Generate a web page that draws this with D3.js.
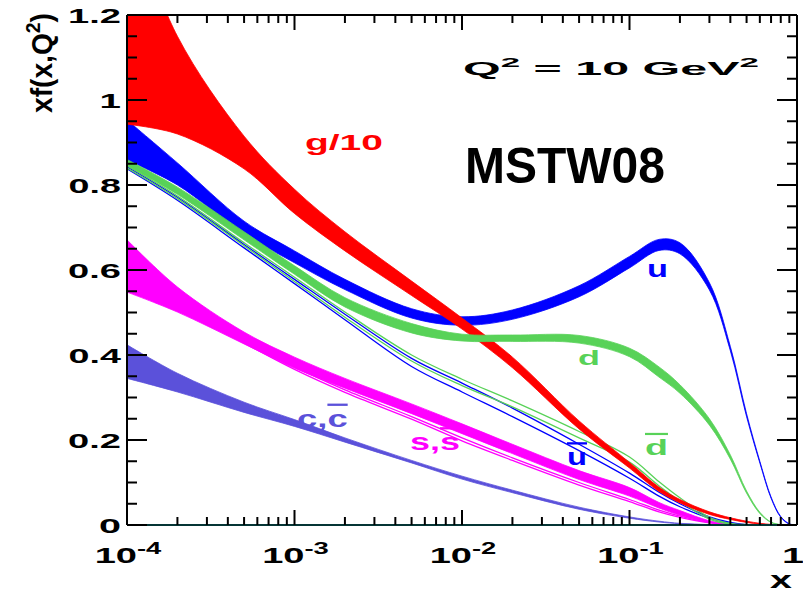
<!DOCTYPE html>
<html><head><meta charset="utf-8">
<script src="https://cdn.jsdelivr.net/npm/d3@7"></script>
<style>
body{margin:0;background:#fff}
text{font-family:"Liberation Sans",Arial,Helvetica,sans-serif;font-weight:bold}
</style>
</head><body>
<svg id="chart" width="803" height="592"></svg>
<script>
// ---------- data ----------
const xValues = [1e-4, 2e-4, 5e-4, 1e-3, 2e-3, 5e-3, 0.01, 0.02, 0.05, 0.1, 0.15, 0.2, 0.3, 0.4, 0.5, 0.6, 0.7, 0.8, 0.9, 1];
const gluonHi = [1.45, 1.15, 0.915, 0.79, 0.69, 0.574, 0.487, 0.395, 0.245, 0.147, 0.089, 0.06, 0.031, 0.017, 0.009, 0.004, 0.0015, 0.0004, 0.0001, 0];
const gluonLo = [0.943, 0.92, 0.838, 0.733, 0.645, 0.54, 0.461, 0.37, 0.226, 0.134, 0.079, 0.052, 0.025, 0.013, 0.006, 0.002, 0.0005, 0.0001, 0, 0];
const uHi = [0.953, 0.852, 0.715, 0.645, 0.578, 0.509, 0.49, 0.506, 0.563, 0.632, 0.672, 0.664, 0.57, 0.42, 0.262, 0.15, 0.066, 0.02, 0.003, 0];
const uLo = [0.859, 0.8, 0.685, 0.617, 0.554, 0.487, 0.47, 0.484, 0.537, 0.605, 0.646, 0.638, 0.553, 0.41, 0.255, 0.146, 0.063, 0.018, 0.002, 0];
const dHi = [0.86, 0.795, 0.69, 0.61, 0.535, 0.474, 0.449, 0.447, 0.446, 0.416, 0.372, 0.33, 0.25, 0.165, 0.08, 0.03, 0.007, 0.001, 0, 0];
const dLo = [0.846, 0.778, 0.671, 0.59, 0.513, 0.452, 0.433, 0.432, 0.428, 0.396, 0.348, 0.31, 0.235, 0.155, 0.075, 0.027, 0.006, 0.0005, 0, 0];
const ubarHi = [0.843, 0.771, 0.66, 0.578, 0.496, 0.392, 0.334, 0.275, 0.19, 0.122, 0.077, 0.05, 0.019, 0.006, 0.001, 0, 0, 0, 0, 0];
const ubarLo = [0.838, 0.764, 0.652, 0.568, 0.483, 0.373, 0.313, 0.255, 0.175, 0.11, 0.068, 0.043, 0.016, 0.004, 0.0005, 0, 0, 0, 0, 0];
const dbarHi = [0.845, 0.774, 0.664, 0.583, 0.501, 0.4, 0.343, 0.292, 0.22, 0.16, 0.102, 0.064, 0.018, 0.004, 0.001, 0, 0, 0, 0, 0];
const dbarLo = [0.84, 0.768, 0.657, 0.573, 0.489, 0.386, 0.328, 0.278, 0.205, 0.148, 0.092, 0.056, 0.014, 0.002, 0, 0, 0, 0, 0, 0];
const sHi = [0.671, 0.56, 0.454, 0.395, 0.345, 0.285, 0.238, 0.19, 0.128, 0.088, 0.053, 0.034, 0.01, 0.002, 0, 0, 0, 0, 0, 0];
const sLo = [0.548, 0.501, 0.426, 0.369, 0.322, 0.262, 0.215, 0.168, 0.107, 0.068, 0.04, 0.023, 0.006, 0.001, 0, 0, 0, 0, 0, 0];
const sbarHi = [0.6, 0.52, 0.435, 0.372, 0.318, 0.255, 0.205, 0.158, 0.1, 0.06, 0.035, 0.021, 0.006, 0.001, 0, 0, 0, 0, 0, 0];
const sbarLo = [0.58, 0.51, 0.428, 0.366, 0.312, 0.249, 0.198, 0.152, 0.094, 0.055, 0.031, 0.018, 0.005, 0.0005, 0, 0, 0, 0, 0, 0];
const cHi = [0.424, 0.357, 0.289, 0.248, 0.205, 0.152, 0.115, 0.082, 0.042, 0.019, 0.009, 0.004, 0.001, 0, 0, 0, 0, 0, 0, 0];
const cLo = [0.345, 0.313, 0.265, 0.232, 0.195, 0.146, 0.108, 0.076, 0.037, 0.016, 0.007, 0.003, 0.0005, 0, 0, 0, 0, 0, 0, 0];

const yTickValues = [0, 0.2, 0.4, 0.6, 0.8, 1, 1.2];
const yTickLabels = ["0", "0.2", "0.4", "0.6", "0.8", "1", "1.2"];
const xTickValues = [1e-4, 1e-3, 1e-2, 1e-1, 1];
const xTickBase = ["10", "10", "10", "10", "1"];
const xTickExp = ["-4", "-3", "-2", "-1", ""];

const colors = {g:"#ff0000", u:"#0000ff", d:"#58d258", s:"#ff00ff", c:"#5b51da"};

// ---------- layout ----------
const L = 127, R = 797, T = 15, B = 525;
const svg = d3.select("#chart");
const x = d3.scaleLog().domain([1e-4, 1]).range([L, R]);
const y = d3.scaleLinear().domain([0, 1.2]).range([B, T]);

svg.append("defs").append("clipPath").attr("id", "clip")
  .append("rect").attr("x", L).attr("y", T).attr("width", R - L).attr("height", B - T);
const plot = svg.append("g").attr("clip-path", "url(#clip)");

const idx = d3.range(xValues.length);
const curve = d3.curveCatmullRom.alpha(0.5);
function area(lo, hi) {
  return d3.area().x(i => x(xValues[i])).y0(i => y(lo[i])).y1(i => y(hi[i]))
    .curve(curve)(idx);
}
function line(v) {
  return d3.line().x(i => x(xValues[i])).y(i => y(v[i])).curve(curve)(idx);
}
function fillBand(lo, hi, col) {
  plot.append("path").attr("d", area(lo, hi)).attr("fill", col)
    .attr("stroke", col).attr("stroke-width", 0.8);
}
function lineBand(lo, hi, col) {
  [lo, hi].forEach(v => plot.append("path").attr("d", line(v)).attr("fill", "none")
    .attr("stroke", col).attr("stroke-width", 1.3));
}

fillBand(cLo, cHi, colors.c);
fillBand(sLo, sHi, colors.s);
lineBand(sbarLo, sbarHi, colors.s);
lineBand(ubarLo, ubarHi, colors.u);
lineBand(dbarLo, dbarHi, colors.d);
fillBand(uLo, uHi, colors.u);
fillBand(gluonLo, gluonHi, colors.g);
fillBand(dLo, dHi, colors.d);

// ---------- axes ----------
const ax = svg.append("g").attr("stroke", "#000").attr("fill", "none");
ax.append("line").attr("x1", L).attr("x2", L).attr("y1", T).attr("y2", B).attr("stroke-width", 2);
ax.append("line").attr("x1", R).attr("x2", R).attr("y1", T).attr("y2", B).attr("stroke-width", 2);
ax.append("line").attr("x1", L).attr("x2", R).attr("y1", T).attr("y2", T).attr("stroke-width", 2);
ax.append("line").attr("x1", L).attr("x2", R).attr("y1", B).attr("y2", B).attr("stroke-width", 2.2).attr("stroke", "#053535");

const yMinor = d3.range(0, 1.2001, 0.05).filter(v => Math.abs(v * 5 - Math.round(v * 5)) > 1e-6);
const xMinor = [];
[-4, -3, -2, -1].forEach(e => { for (let k = 2; k <= 9; k++) xMinor.push(k * Math.pow(10, e)); });

function yTicks(vals, len) {
  vals.forEach(v => {
    ax.append("line").attr("x1", L).attr("x2", L + len).attr("y1", y(v)).attr("y2", y(v)).attr("stroke-width", 2);
    ax.append("line").attr("x1", R).attr("x2", R - len).attr("y1", y(v)).attr("y2", y(v)).attr("stroke-width", 2);
  });
}
function xTicks(vals, len) {
  vals.forEach(v => {
    ax.append("line").attr("x1", x(v)).attr("x2", x(v)).attr("y1", B).attr("y2", B - len).attr("stroke-width", 2);
    ax.append("line").attr("x1", x(v)).attr("x2", x(v)).attr("y1", T).attr("y2", T + len).attr("stroke-width", 2);
  });
}
yTicks(yTickValues, 20);
yTicks(yMinor, 10);
xTicks(xTickValues.slice(0, 4), 15);
xTicks(xMinor, 8);

// ---------- text helper ----------
function label(parts, px, py, size, w, col, anchor) {
  const g = svg.append("g");
  const t = g.append("text").attr("font-size", size).attr("fill", col || "#000")
    .attr("text-anchor", anchor || "start");
  parts.forEach(p => {
    const ts = t.append("tspan").text(p.t);
    if (p.sup) ts.attr("font-size", size * 0.72).attr("dy", -size * 0.42);
    if (p.down) ts.attr("dy", size * 0.42);
    if (p.over) ts.style("text-decoration", "overline");
  });
  const bw = t.node().getBBox().width;
  const sx = w ? w / bw : 1;
  g.attr("transform", `translate(${px},${py}) scale(${sx},1)`);
  return g;
}

yTickValues.forEach((v, i) => {
  const s = yTickLabels[i];
  const w = s.length === 1 ? 22 : 53;
  label([{t: s}], 121, y(v) + 8, 21, w, "#000", "end");
});
xTickValues.forEach((v, i) => {
  if (xTickExp[i]) {
    label([{t: xTickBase[i]}, {t: xTickExp[i], sup: true}], x(v) + 1, 563, 22, 67, "#000", "middle");
  } else {
    label([{t: xTickBase[i]}], x(v) - 4, 563, 22, 22, "#000", "middle");
  }
});
label([{t: "x"}], 781, 588, 24, 23, "#000", "middle");
const yt = svg.append("g").attr("transform", "translate(52,63) rotate(-90)");
yt.append("text").attr("font-size", 29).attr("text-anchor", "middle")
  .attr("textLength", 100).attr("lengthAdjust", "spacingAndGlyphs")
  .call(t => {
    t.append("tspan").text("xf(x,Q");
    t.append("tspan").text("2").attr("font-size", 20).attr("dy", -12);
    t.append("tspan").text(")").attr("dy", 12);
  });

label([{t: "Q"}, {t: "2", sup: true}, {t: " = 10 GeV", down: true}, {t: "2", sup: true}], 463, 75, 19, 297, "#000");
label([{t: "MSTW08"}], 465, 183, 50, 200, "#000");
label([{t: "g/10"}], 305, 150, 22, 78, colors.g);
label([{t: "u"}], 647, 277, 23, 21, colors.u);
label([{t: "d"}], 578, 365, 21, 22, colors.d);
label([{t: "d", over: true}], 645, 455, 22, 23, colors.d);
label([{t: "u", over: true}], 567, 465, 23, 20, colors.u);
label([{t: "s,"}, {t: "s", over: true}], 410, 450, 23, 50, colors.s);
label([{t: "c,"}, {t: "c", over: true}], 297, 427, 23, 51, colors.c);
</script>
</body></html>
